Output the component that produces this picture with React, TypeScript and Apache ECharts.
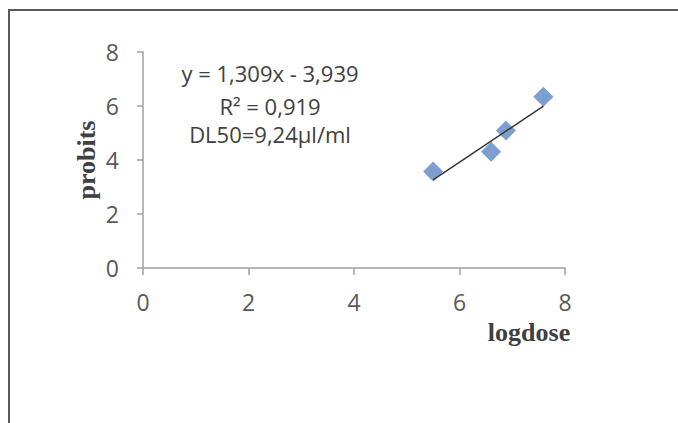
import React, { useEffect, useRef } from "react";
import * as echarts from "echarts";

const logdose = [5.5, 6.6, 6.88, 7.59];
const probits = [3.57, 4.31, 5.09, 6.34];
const slope = 1.309;
const intercept = -3.939;
const trendRange = [5.5, 7.59];
const annotationLines = ["y = 1,309x - 3,939", "R² = 0,919", "DL50=9,24µl/ml"];
const annotationY = [73, 106, 134];
const xTitle = "logdose";
const yTitle = "probits";

export default function App() {
  const ref = useRef<HTMLDivElement>(null);
  useEffect(() => {
    if (!ref.current) return;
    const chart = echarts.init(ref.current, undefined, { renderer: "svg" });
    const points = logdose.map((x, i) => [x, probits[i]]);
    const trend = trendRange.map((x) => [x, slope * x + intercept]);
    const labelFont = { color: "#595959", fontSize: 23, fontFamily: "Open Sans" };
    chart.setOption({
      animation: false,
      backgroundColor: "#ffffff",
      grid: { left: 143, right: 113, top: 52, bottom: 155, containLabel: false },
      xAxis: {
        type: "value",
        min: 0,
        max: 8,
        interval: 2,
        splitLine: { show: false },
        axisLine: { show: true, onZero: false, lineStyle: { color: "#a0a0a0", width: 1.5 } },
        axisTick: { show: true, inside: false, length: 7, lineStyle: { color: "#a0a0a0", width: 1.5 } },
        axisLabel: { ...labelFont, margin: 22 },
      },
      yAxis: {
        type: "value",
        min: 0,
        max: 8,
        interval: 2,
        splitLine: { show: false },
        axisLine: { show: true, onZero: false, lineStyle: { color: "#a0a0a0", width: 1.5 } },
        axisTick: { show: true, inside: false, length: 6, lineStyle: { color: "#a0a0a0", width: 1.5 } },
        axisLabel: { ...labelFont, margin: 24 },
      },
      series: [
        {
          type: "line",
          data: trend,
          symbol: "none",
          lineStyle: { color: "#333333", width: 1.5 },
          z: 3,
        },
        {
          type: "scatter",
          data: points,
          symbol: "diamond",
          symbolSize: 20,
          itemStyle: { color: "#5b86c4" },
          z: 2,
        },
      ],
      graphic: [
        {
          type: "rect",
          shape: { x: 9, y: 10, width: 720, height: 480 },
          style: { fill: "none", stroke: "#5a5a5a", lineWidth: 2 },
          silent: true,
        },
        ...annotationLines.map((t, i) => ({
          type: "text",
          x: 270,
          y: annotationY[i],
          style: {
            text: t,
            fill: "#404040",
            fontSize: 22,
            fontFamily: "Open Sans",
            align: "center",
            verticalAlign: "middle",
          },
        })),
        {
          type: "text",
          x: 529,
          y: 332,
          style: {
            text: xTitle,
            fill: "#404040",
            fontSize: 26,
            fontWeight: "bold",
            fontFamily: "Liberation Serif",
            align: "center",
            verticalAlign: "middle",
          },
        },
        {
          type: "text",
          x: 86,
          y: 160,
          rotation: Math.PI / 2,
          style: {
            text: yTitle,
            fill: "#404040",
            fontSize: 26,
            fontWeight: "bold",
            fontFamily: "Liberation Serif",
            align: "center",
            verticalAlign: "middle",
          },
        },
      ],
    });
    return () => chart.dispose();
  }, []);
  return (
    <div
      ref={ref}
      style={{ position: "fixed", left: 0, top: 0, width: 678, height: 423 }}
    />
  );
}
